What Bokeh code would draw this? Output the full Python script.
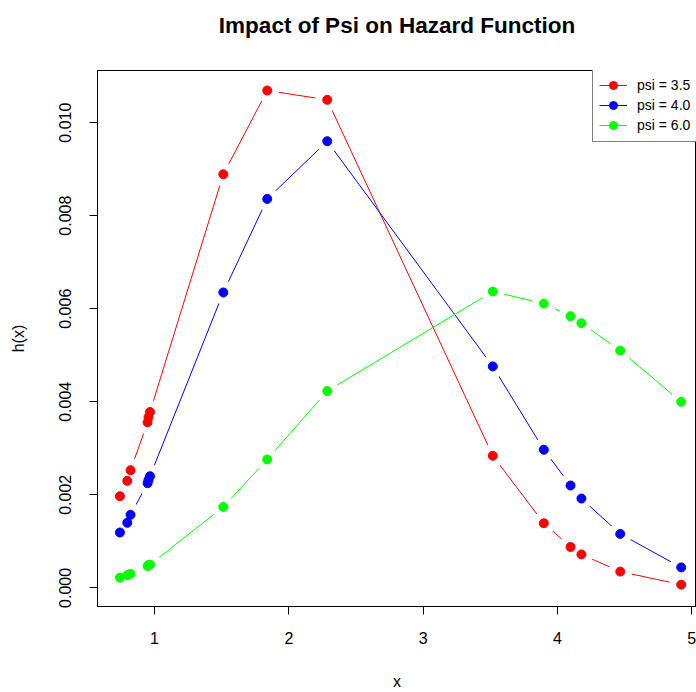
from bokeh.plotting import figure
from bokeh.models import Range1d, FixedTicker, PrintfTickFormatter, Legend, LegendItem, ColumnDataSource, Title
from bokeh.embed import file_html
from bokeh.resources import INLINE

# ---- data ----
x_vals = [0.742, 0.797, 0.821, 0.948, 0.955, 0.966, 1.512, 1.839, 2.286,
          3.519, 3.899, 4.098, 4.179, 4.468, 4.922]
h_psi35 = [0.00197, 0.00230, 0.00253, 0.00356, 0.00367, 0.00378, 0.00889, 0.01069,
           0.01049, 0.00284, 0.00139, 0.00088, 0.00072, 0.00035, 0.00007]
h_psi40 = [0.00119, 0.00140, 0.00157, 0.00225, 0.00232, 0.00240, 0.00635, 0.00836,
           0.00960, 0.00476, 0.00297, 0.00220, 0.00192, 0.00116, 0.00044]
h_psi60 = [0.00022, 0.000275, 0.00030, 0.00047, 0.00049, 0.00050, 0.00174, 0.00276,
           0.00423, 0.00637, 0.00611, 0.00584, 0.00569, 0.00510, 0.00400]
series_labels = ["psi = 3.5", "psi = 4.0", "psi = 6.0"]
series_colors = ["#FF0000", "#0000FF", "#00FF00"]
x_ticks = [1, 2, 3, 4, 5]
y_ticks = [0.000, 0.002, 0.004, 0.006, 0.008, 0.010]
chart_title = "Impact of Psi on Hazard Function"

FONT = "Liberation Sans"

p = figure(width=696, height=692, output_backend="svg", toolbar_location=None,
           x_range=Range1d(0.575, 5.036), y_range=Range1d(-0.0004, 0.01112),
           min_border_left=97, min_border_right=0, min_border_top=70, min_border_bottom=86)
p.background_fill_color = "white"
p.border_fill_color = "white"
p.outline_line_color = "black"
p.outline_line_width = 1
p.xgrid.visible = False
p.ygrid.visible = False

# real title (outermost in the top panel)
p.title.text = chart_title
p.title.align = "center"
p.title.text_font = FONT
p.title.text_font_size = "22.5px"
p.title.text_font_style = "bold"
p.title.text_color = "black"
p.title.standoff = 0

# invisible spacer between the title and the frame
spacer = Title(text=" ", text_font=FONT, text_font_size="22.5px", standoff=6)
p.add_layout(spacer, "above")

for ax in (p.xaxis[0], p.yaxis[0]):
    ax.axis_line_color = "black"
    ax.major_tick_line_color = "black"
    ax.major_tick_in = 0
    ax.major_tick_out = 8
    ax.minor_tick_line_color = None
    ax.major_label_text_font = FONT
    ax.major_label_text_font_size = "16px"
    ax.major_label_text_color = "black"
    ax.axis_label_text_font = FONT
    ax.axis_label_text_font_size = "16px"
    ax.axis_label_text_font_style = "normal"
    ax.axis_label_text_color = "black"

p.xaxis.ticker = FixedTicker(ticks=x_ticks)
p.xaxis.axis_label = "x"
p.xaxis.major_label_standoff = 17
p.xaxis.axis_label_standoff = 26

p.yaxis.ticker = FixedTicker(ticks=y_ticks)
p.yaxis.formatter = PrintfTickFormatter(format="%.3f")
p.yaxis.major_label_orientation = "vertical"
p.yaxis.axis_label = "h(x)"
p.yaxis.major_label_standoff = 18
p.yaxis.axis_label_standoff = 30

items = []
for ys, lab, col in zip([h_psi35, h_psi40, h_psi60], series_labels, series_colors):
    src = ColumnDataSource(dict(x=x_vals, y=ys))
    ln = p.line("x", "y", source=src, line_color=col, line_width=1, level="glyph")
    p.scatter("x", "y", source=src, marker="circle", size=23, level="guide",
              fill_color="#ffffff", fill_alpha=1.0, line_color="#ffffff", line_alpha=1.0)
    pts = p.scatter("x", "y", source=src, marker="circle", size=9, level="guide",
                    fill_color=col, line_color=col)
    items.append(LegendItem(label=lab, renderers=[ln, pts]))

legend = Legend(items=items, location=(495, 464), orientation="vertical")
legend.border_line_color = "black"
legend.border_line_width = 1
legend.background_fill_color = "white"
legend.background_fill_alpha = 1
legend.label_text_font = FONT
legend.label_text_font_size = "14px"
legend.label_text_color = "black"
legend.glyph_width = 28
legend.glyph_height = 20
legend.label_standoff = 10
legend.label_height = 20
legend.spacing = 0
legend.padding = 6
legend.margin = 0
p.add_layout(legend, "center")

open("out.html", "w").write(file_html(p, INLINE))
